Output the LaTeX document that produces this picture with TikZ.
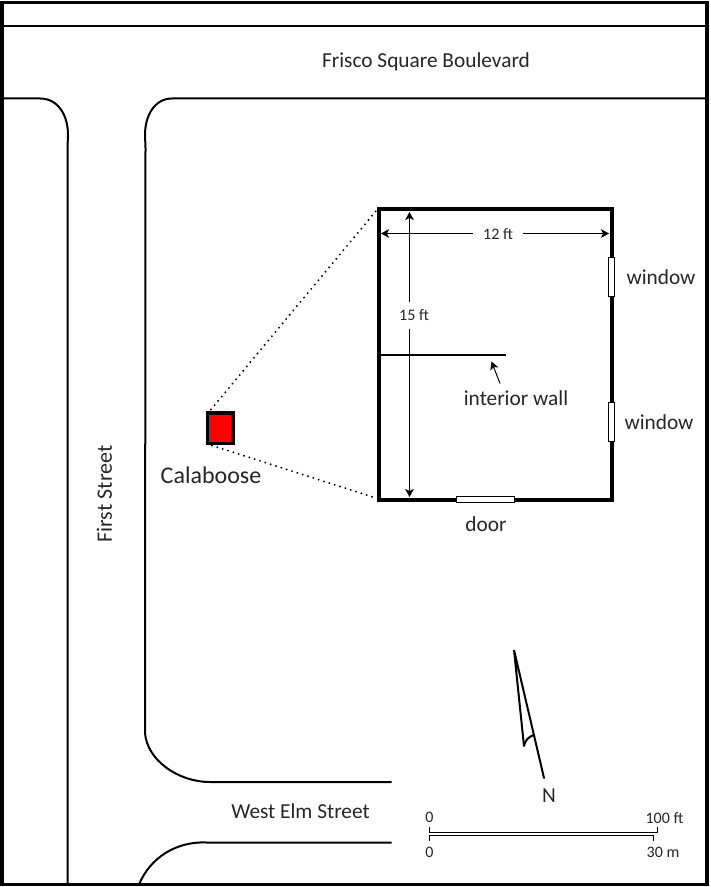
\documentclass[tikz,border=0pt]{standalone}
\usepackage{fontspec}
\setmainfont{Carlito}
\usetikzlibrary{arrows.meta}

\tikzset{every picture/.style={line width=0.75pt}}
\tikzset{
  road/.style={line width=1.5pt},
  wallopen/.style={draw,fill=white,line width=0.75pt,inner sep=0pt,outer sep=0pt},
  biglabel/.style={inner sep=0.75pt,font=\fontsize{16}{19}\selectfont,text=black!85},
  smalllabel/.style={inner sep=0.75pt,font=\fontsize{12}{14}\selectfont,text=black!85},
  dimline/.style={line width=0.75pt,-{Stealth[length=6pt,width=6.5pt,inset=1.5pt]}},
  hint/.style={line cap=round,dash pattern=on 0pt off 4.2pt,line width=1.6pt}
}

\begin{document}
\begin{tikzpicture}[x=0.75pt,y=0.75pt,yscale=-1,xscale=1]
\useasboundingbox (0,0) rectangle (710,887);

%Frame
\draw [line width=2.8pt] (2,2.5) rectangle (707,884.5);
\draw [road] (2,26) -- (707,26);

%First Street, left kerb
\draw [road] (2,98.5) -- (40,98.5) .. controls (58,98.5) and (68,115) .. (68,135) -- (67.5,148) -- (67.5,884.5);
%Main block kerb
\draw [road] (707,98.5) -- (172,98.5) .. controls (155,98.5) and (145,115) .. (145,135) -- (145.5,148) -- (145,733) .. controls (147,760) and (178,782) .. (210,782) -- (391.5,782);
%West Elm Street, lower kerb
\draw [road] (391.5,842.5) -- (207,842.5) .. controls (176,841) and (150,858) .. (139,884.5);

%Calaboose
\node (calaboose) [draw,fill=red,line width=2.6pt,inner sep=0pt,outer sep=0pt,minimum width=19pt,minimum height=23pt,anchor=north west] at (207.5,413) {};

%Floor plan
\node (room) [draw,line width=3pt,inner sep=0pt,outer sep=0pt,minimum width=174.75pt,minimum height=217.5pt,anchor=north west] at (378.5,209.5) {};
\coordinate (wallstart) at (380,354.5);
\coordinate (wallend) at (506,354.5);
\draw [line width=1.5pt] (wallstart) -- (wallend);

%Openings
\node (windowa) [wallopen,minimum width=4.5pt,minimum height=29.25pt,anchor=north west] at (608.5,257.5) {};
\node (windowb) [wallopen,minimum width=4.5pt,minimum height=29.25pt,anchor=north west] at (608.5,402) {};
\node (doorway) [wallopen,minimum width=43.5pt,minimum height=4.5pt,anchor=north west] at (456.5,496.5) {};

%Dotted lines to the plan
\coordinate (hinta) at (211,409.5);
\coordinate (hintb) at (212,445.5);
\coordinate (hintc) at (376,211);
\coordinate (hintd) at (376,498);
\draw [hint] (hinta) -- (hintc);
\draw [hint] (hintb) -- (hintd);

% Text Node
\node (frisco) [biglabel] at (426,62) {Frisco Square Boulevard};
% Text Node
\node (first) [biglabel,rotate=90,font=\fontsize{16.5}{20}\selectfont] at (104.5,494) {First Street};
% Text Node
\node (elm) [biglabel] at (300.5,811) {West Elm Street};
% Text Node
\node (calabel) [biglabel,font=\fontsize{18}{21}\selectfont] at (211,475) {Calaboose};
% Text Node
\node (windowlabela) [biglabel] at (661,277) {window};
% Text Node
\node (windowlabelb) [biglabel] at (659,422) {window};
% Text Node
\node (doorlabel) [biglabel] at (486,524.5) {door};
% Text Node
\node (walllabel) [biglabel] at (516,398.5) {interior wall};
% Text Node
\node (north) [biglabel] at (549,795.5) {N};
% Text Node
\node (width) [smalllabel,inner xsep=7pt,inner ysep=2pt] at (498,234) {12 ft};
% Text Node
\node (depth) [smalllabel,inner ysep=6pt,fill=white] at (414,315.5) {15 ft};

%Dimensions
\coordinate (widthl) at (381,233.5);
\coordinate (widthr) at (609,233.5);
\coordinate (deptht) at (409.5,212);
\coordinate (depthb) at (409.5,497);
\draw [dimline] (409.5,302) -- (deptht);
\draw [dimline] (409.5,329) -- (depthb);
\draw [dimline] (width.west |- widthl) -- (widthl);
\draw [dimline] (width.east |- widthr) -- (widthr);

%Wall pointer
\coordinate (pointerfoot) at (500,383.5);
\coordinate (pointertip) at (491.5,361.5);
\draw [dimline] (pointerfoot) -- (pointertip);

%North arrow
\coordinate (needletip) at (514,650);
\coordinate (needleend) at (544,778);
\coordinate (needlefoot) at (524,746);
\coordinate (needlearc) at (534,735);
\draw [road,line cap=round] (needleend) -- (needletip) -- (needlefoot);
\draw [road] (needlefoot) .. controls (525,740) and (529,736.5) .. (needlearc);

%Scale bar
\draw [line width=0.75pt] (429.5,827) -- (429.5,832.3) -- (657.3,832.3) -- (657.3,827);
\draw [line width=0.75pt] (429.5,841) -- (429.5,835.3) -- (653.3,835.3) -- (653.3,841);
% Text Node
\node (zeroft) [smalllabel] at (429.5,817.5) {0};
% Text Node
\node (hundredft) [smalllabel] at (664.5,818) {100 ft};
% Text Node
\node (zerom) [smalllabel] at (429.5,852) {0};
% Text Node
\node (thirtym) [smalllabel] at (663,852) {30 m};

\end{tikzpicture}
\end{document}
